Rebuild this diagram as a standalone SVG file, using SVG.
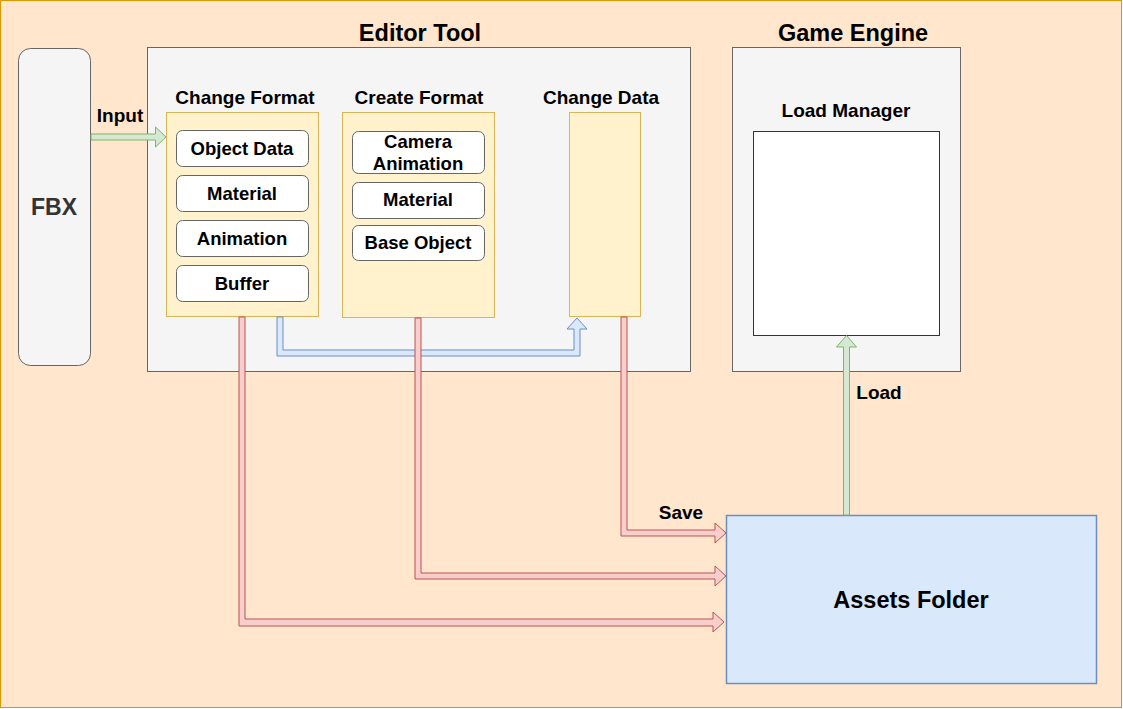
<svg xmlns="http://www.w3.org/2000/svg" width="1123" height="709" viewBox="0 0 1123 709">
<style>
text{font-family:"Liberation Sans",Arial,sans-serif;font-weight:bold;fill:#000;text-anchor:middle}
.ttl{font-size:23.5px}
.hdr{font-size:19px}
.itm{font-size:18.5px}
.cont{fill:#f5f5f5;stroke:#666;stroke-width:1}
.yel{fill:#fff2cc;stroke:#d6b656;stroke-width:1}
.item{fill:#fff;stroke:#666;stroke-width:1}
.red{fill:#f8cecc;stroke:#b85450;stroke-width:1}
.blue{fill:#dae8fc;stroke:#6c8ebf;stroke-width:1}
.green{fill:#d5e8d4;stroke:#82b366;stroke-width:1}
</style>
<rect x="0.5" y="0.5" width="1121" height="707" fill="#ffe6cc" stroke="#d79b00"/>

<g id="fbx">
<rect x="18.5" y="48.5" width="72" height="317" rx="12" fill="#f5f5f5" stroke="#666"/>
<text x="54" y="215" class="ttl" style="font-size:23px;fill:#333">FBX</text>
</g>

<g id="editor-tool">
<rect class="cont" x="147.5" y="47.5" width="543" height="324"/>
<text x="420" y="41" class="ttl">Editor Tool</text>
</g>

<g id="change-format">
<text x="245" y="104" class="hdr">Change Format</text>
<rect class="yel" x="166.5" y="112.5" width="152" height="204"/>
</g>
<g id="cf-object-data"><rect class="item" x="176.5" y="130.5" width="132" height="36" rx="6"/><text x="242" y="154.5" class="itm">Object Data</text></g>
<g id="cf-material"><rect class="item" x="176.5" y="175.5" width="132" height="36" rx="6"/><text x="242" y="199.5" class="itm">Material</text></g>
<g id="cf-animation"><rect class="item" x="176.5" y="220.5" width="132" height="36" rx="6"/><text x="242" y="244.5" class="itm">Animation</text></g>
<g id="cf-buffer"><rect class="item" x="176.5" y="265.5" width="132" height="36" rx="6"/><text x="242" y="289.5" class="itm">Buffer</text></g>

<g id="create-format">
<text x="419" y="104" class="hdr">Create Format</text>
<rect class="yel" x="342.5" y="112.5" width="152" height="205"/>
</g>
<g id="crf-camera-animation"><rect class="item" x="352.5" y="131.5" width="132" height="42" rx="6"/><text x="418" y="147.5" class="itm">Camera</text><text x="418" y="169.5" class="itm">Animation</text></g>
<g id="crf-material"><rect class="item" x="352.5" y="182.5" width="132" height="36" rx="6"/><text x="418" y="205.5" class="itm">Material</text></g>
<g id="crf-base-object"><rect class="item" x="352.5" y="225.5" width="132" height="35" rx="6"/><text x="418" y="248.5" class="itm">Base Object</text></g>

<g id="change-data">
<text x="601" y="104" class="hdr">Change Data</text>
<rect class="yel" x="569.5" y="112.5" width="71" height="204"/>
</g>

<g id="game-engine">
<rect class="cont" x="732.5" y="47.5" width="228" height="324"/>
<text x="853" y="41" class="ttl">Game Engine</text>
</g>
<g id="load-manager">
<text x="846" y="117" class="hdr">Load Manager</text>
<rect x="753.5" y="131.5" width="186" height="204" fill="#fff" stroke="#333"/>
</g>

<g id="assets-folder">
<rect class="blue" x="726.5" y="515.5" width="370" height="168" style="stroke-width:1.5"/>
<text x="911" y="608" class="ttl">Assets Folder</text>
</g>

<g id="connectors">
<path class="green" d="M91,134 L155.5,134 L155.5,127 L166,137 L155.5,147 L155.5,140 L91,140 Z"/>
<text x="120" y="121.5" class="hdr">Input</text>
<path class="blue" d="M277,317 L277,356 L580,356 L580,329 L587,329 L577,318 L567,329 L574,329 L574,350 L283,350 L283,317 Z"/>
<path class="red" d="M239,317 L239,626 L713,626 L713,632 L724,622 L713,612 L713,619 L245,619 L245,317 Z"/>
<path class="red" d="M415,318 L415,579 L715,579 L715,586 L726,576 L715,566 L715,573 L421,573 L421,318 Z"/>
<path class="red" d="M621,317 L621,536 L715,536 L715,543 L726,533 L715,523 L715,530 L627,530 L627,317 Z"/>
<text x="681" y="518.5" class="hdr">Save</text>
<path class="green" d="M843.5,515 L843.5,347 L836.5,347 L846.5,335.5 L856.5,347 L849.5,347 L849.5,515 Z"/>
<text x="879" y="398.5" class="hdr">Load</text>
</g>
</svg>
